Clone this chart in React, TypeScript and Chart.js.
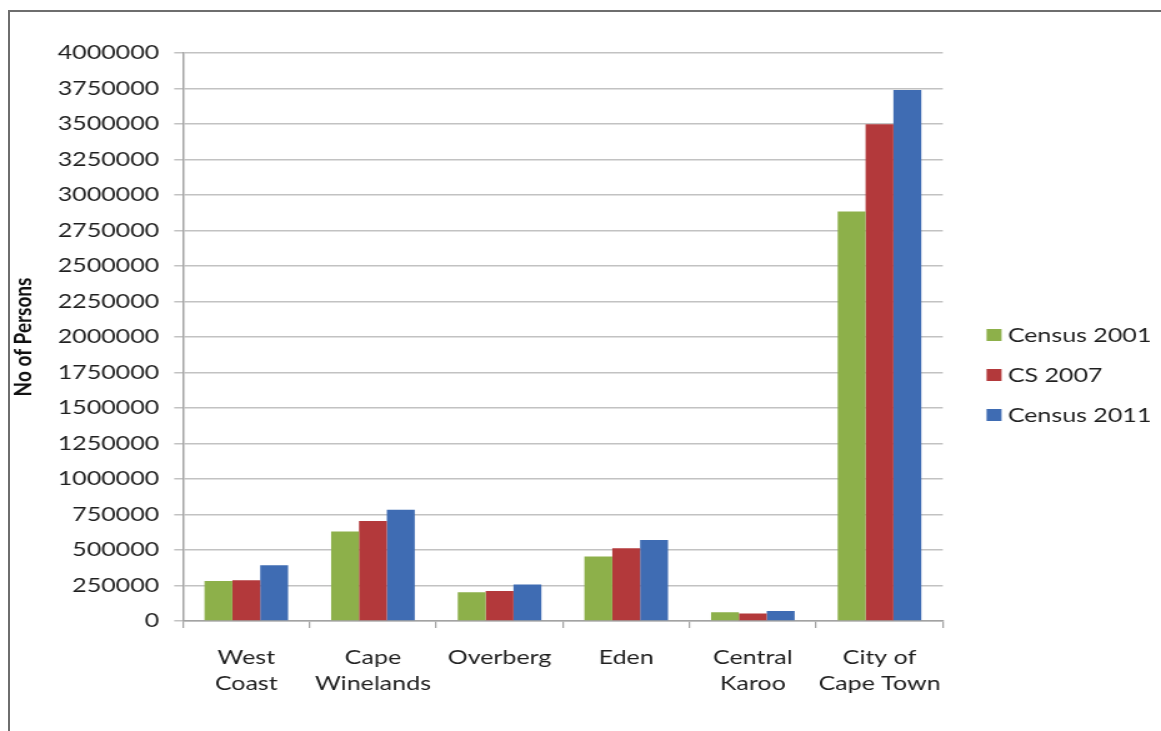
import { useEffect, useRef } from 'react';
import { Chart, registerables } from 'chart.js';

Chart.register(...registerables);

// Western Cape districts and their population counts
const districts: (string | string[])[] = [
  ['West', 'Coast'],
  ['Cape', 'Winelands'],
  'Overberg',
  'Eden',
  ['Central', 'Karoo'],
  ['City of', 'Cape Town'],
];
const census2001 = [282000, 630000, 203000, 454000, 61000, 2884000];
const cs2007 = [287000, 705000, 212000, 513000, 53000, 3498000];
const census2011 = [392000, 783000, 257000, 570000, 70000, 3740000];
const seriesNames = ['Census 2001', 'CS 2007', 'Census 2011'];
const seriesColors = ['#8db04a', '#b3393b', '#3f6cb3'];
const yMin = 0;
const yMax = 4000000;
const yStep = 250000;
const yTitle = 'No of Persons';

// The chart is drawn into a narrower buffer and widened by CSS,
// which gives the wide lettering of the original graphic.
const PAGE_W = 1161;
const PAGE_H = 731;
const STRETCH = 1.25;
const BUF_W = Math.round(PAGE_W / STRETCH);

const FONT = 'Lato, "Open Sans", sans-serif';
const TEXT = '#1f1f1f';
const AXIS = '#a3a3a3';
const GRID = '#c2c2c2';

// Legend drawn at the right of the plot, centred a little below its middle
const sideLegend = {
  id: 'sideLegend',
  afterDraw(chart: Chart) {
    const { ctx, chartArea } = chart;
    const cy = (chartArea.top + chartArea.bottom) / 2 + 38;
    const gap = 40;
    const boxX = chartArea.right + 35;
    ctx.save();
    ctx.font = `20px ${FONT}`;
    ctx.textBaseline = 'middle';
    ctx.textAlign = 'left';
    chart.data.datasets.forEach((ds, i) => {
      const y = cy + (i - 1) * gap;
      ctx.fillStyle = ds.backgroundColor as string;
      ctx.fillRect(boxX, y - 6, 12, 12);
      ctx.fillStyle = TEXT;
      ctx.fillText(String(ds.label), boxX + 17, y + 1);
    });
    ctx.restore();
  },
};

export default function App() {
  const canvasRef = useRef<HTMLCanvasElement>(null);

  useEffect(() => {
    const canvas = canvasRef.current;
    if (!canvas) return;
    const series = [census2001, cs2007, census2011];
    const chart = new Chart(canvas, {
      type: 'bar',
      data: {
        labels: districts,
        datasets: series.map((values, i) => ({
          label: seriesNames[i],
          data: values,
          backgroundColor: seriesColors[i],
          borderWidth: 0,
          categoryPercentage: 0.66,
          barPercentage: 1,
        })),
      },
      options: {
        animation: false,
        responsive: false,
        devicePixelRatio: 1,
        layout: { padding: { left: 7, top: 53, right: BUF_W - 754.4, bottom: 0 } },
        plugins: {
          legend: { display: false },
          tooltip: { enabled: false },
        },
        scales: {
          x: {
            grid: {
              display: true,
              drawOnChartArea: false,
              drawTicks: true,
              tickLength: 7,
              color: AXIS,
              lineWidth: 1.25,
            },
            border: { color: AXIS, width: 1.5 },
            ticks: {
              autoSkip: false,
              maxRotation: 0,
              minRotation: 0,
              padding: 17,
              color: TEXT,
              font: { family: FONT, size: 20, lineHeight: 1.3 },
            },
            afterFit: (scale: any) => {
              scale.height = 110;
            },
          },
          y: {
            min: yMin,
            max: yMax,
            grid: {
              color: GRID,
              lineWidth: 1.5,
              tickLength: 7,
              tickColor: GRID,
            },
            border: { color: AXIS, width: 1.5 },
            ticks: {
              stepSize: yStep,
              padding: 12,
              color: TEXT,
              font: { family: FONT, size: 20 },
              callback: (v: any) => String(v),
            },
            title: {
              display: true,
              text: yTitle,
              color: '#111',
              padding: 0,
              font: { family: FONT, size: 19, weight: 'bold' },
            },
            afterFit: (scale: any) => {
              scale.width = 139.4;
            },
          },
        },
      },
      plugins: [sideLegend],
    });
    canvas.style.width = `${PAGE_W}px`;
    canvas.style.height = `${PAGE_H}px`;
    return () => chart.destroy();
  }, []);

  return (
    <div
      style={{
        position: 'fixed',
        left: 0,
        top: 0,
        width: PAGE_W,
        height: PAGE_H,
        overflow: 'hidden',
        background: '#fff',
      }}
    >
      <canvas
        ref={canvasRef}
        width={BUF_W}
        height={PAGE_H}
        style={{ position: 'absolute', left: 0, top: 0, width: PAGE_W, height: PAGE_H }}
      />
      <div
        style={{
          position: 'absolute',
          left: 8,
          top: 10,
          width: PAGE_W,
          height: PAGE_H,
          borderLeft: '2px solid #6e6e6e',
          borderTop: '2px solid #6e6e6e',
          pointerEvents: 'none',
        }}
      />
    </div>
  );
}
